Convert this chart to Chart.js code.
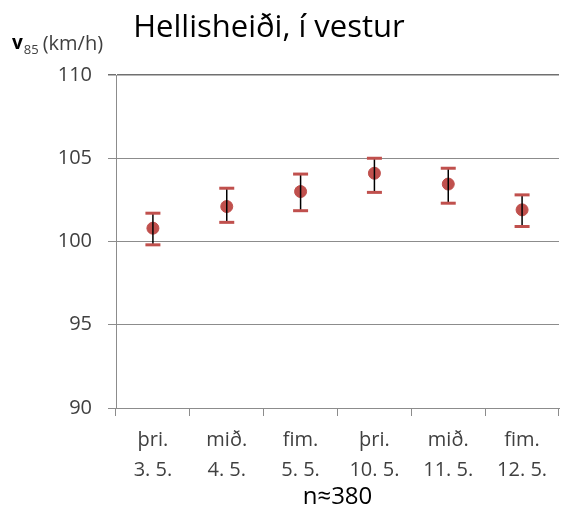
<!DOCTYPE html>
<html>
<head>
<meta charset="utf-8">
<script src="https://cdn.jsdelivr.net/npm/chart.js@4"></script>
<style>
html,body{margin:0;padding:0;background:#fff;overflow:hidden;}
canvas{display:block;}
</style>
</head>
<body>
<canvas id="c" width="566" height="509"></canvas>
<script>
const dayNames = ["þri.", "mið.", "fim.", "þri.", "mið.", "fim."];
const dates = ["3. 5.", "4. 5.", "5. 5.", "10. 5.", "11. 5.", "12. 5."];
const v85 = [100.8, 102.1, 103.0, 104.1, 103.45, 101.9];
const upper = [101.7, 103.2, 104.05, 105.0, 104.4, 102.8];
const lower = [99.8, 101.15, 101.85, 102.95, 102.3, 100.9];
const yTicks = [90, 95, 100, 105, 110];
const titleText = "Hellisheiði, í vestur";
const xTitle = "n≈380";

const FONT = "'Open Sans', sans-serif";
const RED = "#C0504D";
const GRID = "#8c8c8c";
const TXT = "#404040";

const errorBars = {
  id: 'errorBars',
  afterDatasetsDraw(chart) {
    const ctx = chart.ctx, xs = chart.scales.x, ys = chart.scales.y;
    ctx.save();
    for (let i = 0; i < v85.length; i++) {
      const x = xs.getPixelForValue(i);
      const yt = ys.getPixelForValue(upper[i]);
      const yb = ys.getPixelForValue(lower[i]);
      ctx.strokeStyle = "#000";
      ctx.lineWidth = 1.5;
      ctx.beginPath(); ctx.moveTo(x, yt); ctx.lineTo(x, yb); ctx.stroke();
      ctx.strokeStyle = RED;
      ctx.lineWidth = 3;
      [yt, yb].forEach(y => { ctx.beginPath(); ctx.moveTo(x - 7.5, y); ctx.lineTo(x + 7.5, y); ctx.stroke(); });
    }
    ctx.restore();
  }
};

const decorations = {
  id: 'decorations',
  afterDraw(chart) {
    const ctx = chart.ctx;
    ctx.save();
    ctx.fillStyle = "#000";
    ctx.textBaseline = "alphabetic";
    ctx.textAlign = "center";
    ctx.font = "31px " + FONT;
    ctx.fillText(titleText, 269, 37);
    ctx.textAlign = "left";
    ctx.fillStyle = "#000";
    ctx.font = "bold 19px " + FONT;
    ctx.fillText("v", 12, 49);
    let x = 12 + ctx.measureText("v").width + 1;
    ctx.font = "13px " + FONT;
    ctx.fillStyle = TXT;
    ctx.fillText("85", x, 54);
    x += ctx.measureText("85").width + 4;
    ctx.font = "20px " + FONT;
    ctx.fillText("(km/h)", x, 50);
    ctx.restore();
  }
};

new Chart(document.getElementById('c'), {
  type: 'line',
  data: {
    labels: dayNames.map((d, i) => [d, dates[i]]),
    datasets: [{
      data: v85,
      showLine: false,
      pointRadius: 6,
      pointHoverRadius: 6,
      pointBackgroundColor: RED,
      pointBorderColor: RED,
      borderColor: RED
    }]
  },
  options: {
    responsive: false,
    animation: false,
    layout: { padding: { top: 75, right: 0, left: 0, bottom: 0 } },
    plugins: { legend: { display: false }, tooltip: { enabled: false }, title: { display: false } },
    scales: {
      x: {
        offset: true,
        grid: { offset: true, drawOnChartArea: false, drawTicks: true, tickLength: 8, color: GRID, lineWidth: 1 },
        border: { display: true, color: GRID },
        ticks: { color: TXT, font: { family: FONT, size: 20, lineHeight: 1.5 }, padding: 9, maxRotation: 0, autoSkip: false },
        title: { display: true, text: xTitle, color: "#000", font: { family: FONT, size: 24, lineHeight: 1.0 }, padding: { top: 0, bottom: 0 } },
        afterFit(s) { s.height = 101; }
      },
      y: {
        min: 90, max: 110,
        afterBuildTicks(s) { s.ticks = yTicks.map(v => ({ value: v })); },
        grid: { color: ctx => (ctx.tick && ctx.tick.value === 110 ? "#707070" : GRID), lineWidth: ctx => (ctx.tick && ctx.tick.value === 110 ? 1.5 : 1), drawTicks: true, tickLength: 8 },
        border: { display: true, color: GRID },
        ticks: { color: TXT, font: { family: FONT, size: 20 }, padding: 16 },
        afterFit(s) { s.width = 116; }
      }
    }
  },
  plugins: [errorBars, decorations]
});
</script>
</body>
</html>
